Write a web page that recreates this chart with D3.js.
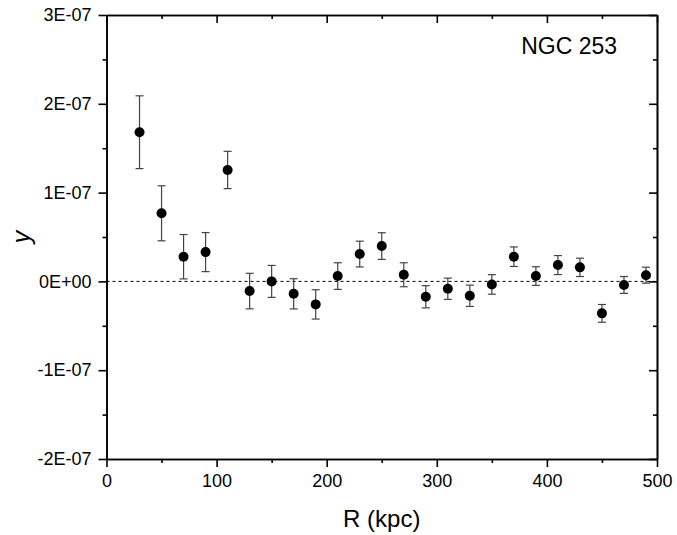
<!DOCTYPE html>
<html>
<head>
<meta charset="utf-8">
<script src="https://cdn.jsdelivr.net/npm/d3@7"></script>
<style>
  body { margin: 0; background: #fff; }
  svg { font-family: "Liberation Sans", Arial, sans-serif; }
</style>
</head>
<body>
<div id="chart"></div>
<script>
// Data (y in units of 1E-07)
const radii = [30, 50, 70, 90, 110, 130, 150, 170, 190, 210, 230, 250, 270, 290, 310, 330, 350, 370, 390, 410, 430, 450, 470, 490];
const yValues = [1.68, 0.767, 0.278, 0.33, 1.255, -0.109, 0.0, -0.14, -0.259, 0.06, 0.308, 0.398, 0.075, -0.173, -0.083, -0.162, -0.034, 0.278, 0.06, 0.184, 0.158, -0.36, -0.04, 0.07];
const yErrors = [0.41, 0.31, 0.25, 0.22, 0.21, 0.2, 0.18, 0.17, 0.165, 0.15, 0.145, 0.15, 0.135, 0.125, 0.12, 0.12, 0.11, 0.11, 0.105, 0.107, 0.103, 0.1, 0.095, 0.09];
const xTicks = [0, 100, 200, 300, 400, 500];
const yTicks = [-2e-7, -1e-7, 0, 1e-7, 2e-7, 3e-7];
const yTickLabels = ['-2E-07', '-1E-07', '0E+00', '1E-07', '2E-07', '3E-07'];

const width = 677, height = 535;
const margin = { top: 15, right: 20, bottom: 76, left: 106.5 };
const innerW = width - margin.left - margin.right;
const innerH = height - margin.top - margin.bottom;

const points = radii.map((r, i) => ({ r: r, y: yValues[i] * 1e-7, err: yErrors[i] * 1e-7 }));

const svg = d3.select('#chart').append('svg')
    .attr('width', width)
    .attr('height', height);

const g = svg.append('g')
    .attr('transform', `translate(${margin.left},${margin.top})`);

const x = d3.scaleLinear().domain([0, 500]).range([0, innerW]);
const y = d3.scaleLinear().domain([-2e-7, 3e-7]).range([innerH, 0]);

// zero reference line
g.append('line')
    .attr('x1', 0).attr('x2', innerW)
    .attr('y1', y(0)).attr('y2', y(0))
    .attr('stroke', '#000')
    .attr('stroke-width', 1)
    .attr('stroke-dasharray', '3,3');

// Axes: major + minor ticks, bottom/left outward, top/right inward
const minorX = d3.range(50, 500, 100);
const minorY = d3.range(-1.5e-7, 3e-7, 1e-7);

function styleAxis(sel) {
    sel.select('.domain').attr('stroke-width', 1.6);
    sel.selectAll('.tick line').attr('stroke-width', 1.6);
}

g.append('g')
    .attr('transform', `translate(0,${innerH})`)
    .call(d3.axisBottom(x).tickValues(xTicks).tickSize(8).tickPadding(7).tickSizeOuter(0))
    .call(styleAxis)
    .call(a => a.selectAll('text').attr('font-size', 18).attr('fill', '#000'));

g.append('g')
    .attr('transform', `translate(0,${innerH})`)
    .call(d3.axisBottom(x).tickValues(minorX).tickSize(4).tickFormat('').tickSizeOuter(0))
    .call(styleAxis);

g.append('g')
    .call(d3.axisLeft(y).tickValues(yTicks).tickSize(8).tickPadding(7).tickSizeOuter(0)
        .tickFormat((d, i) => yTickLabels[i]))
    .call(styleAxis)
    .call(a => a.selectAll('text').attr('font-size', 18).attr('fill', '#000'));

g.append('g')
    .call(d3.axisLeft(y).tickValues(minorY).tickSize(4).tickFormat('').tickSizeOuter(0))
    .call(styleAxis);

g.append('g')
    .call(d3.axisTop(x).tickValues(xTicks).tickSize(-8).tickFormat('').tickSizeOuter(0))
    .call(styleAxis);
g.append('g')
    .call(d3.axisTop(x).tickValues(minorX).tickSize(-4).tickFormat('').tickSizeOuter(0))
    .call(styleAxis);

g.append('g')
    .attr('transform', `translate(${innerW},0)`)
    .call(d3.axisRight(y).tickValues(yTicks).tickSize(-8).tickFormat('').tickSizeOuter(0))
    .call(styleAxis);
g.append('g')
    .attr('transform', `translate(${innerW},0)`)
    .call(d3.axisRight(y).tickValues(minorY).tickSize(-4).tickFormat('').tickSizeOuter(0))
    .call(styleAxis);

// Error bars
const bars = g.selectAll('.err')
    .data(points)
    .enter()
    .append('g')
    .attr('class', 'err')
    .attr('stroke', '#444')
    .attr('stroke-width', 1.2);

bars.append('line')
    .attr('x1', d => x(d.r)).attr('x2', d => x(d.r))
    .attr('y1', d => y(d.y + d.err)).attr('y2', d => y(d.y - d.err));
bars.append('line')
    .attr('x1', d => x(d.r) - 4).attr('x2', d => x(d.r) + 4)
    .attr('y1', d => y(d.y + d.err)).attr('y2', d => y(d.y + d.err));
bars.append('line')
    .attr('x1', d => x(d.r) - 4).attr('x2', d => x(d.r) + 4)
    .attr('y1', d => y(d.y - d.err)).attr('y2', d => y(d.y - d.err));

// Points
g.selectAll('.pt')
    .data(points)
    .enter()
    .append('circle')
    .attr('class', 'pt')
    .attr('cx', d => x(d.r))
    .attr('cy', d => y(d.y))
    .attr('r', 5)
    .attr('fill', '#000');

// Labels
svg.append('text')
    .attr('x', 617)
    .attr('y', 54)
    .attr('text-anchor', 'end')
    .attr('font-size', 23)
    .text('NGC 253');

svg.append('text')
    .attr('x', margin.left + innerW / 2)
    .attr('y', 527)
    .attr('text-anchor', 'middle')
    .attr('font-size', 24)
    .text('R (kpc)');

svg.append('text')
    .attr('transform', `translate(30,${margin.top + innerH / 2}) rotate(-90)`)
    .attr('text-anchor', 'middle')
    .attr('font-size', 25)
    .attr('font-style', 'italic')
    .text('y');
</script>
</body>
</html>
